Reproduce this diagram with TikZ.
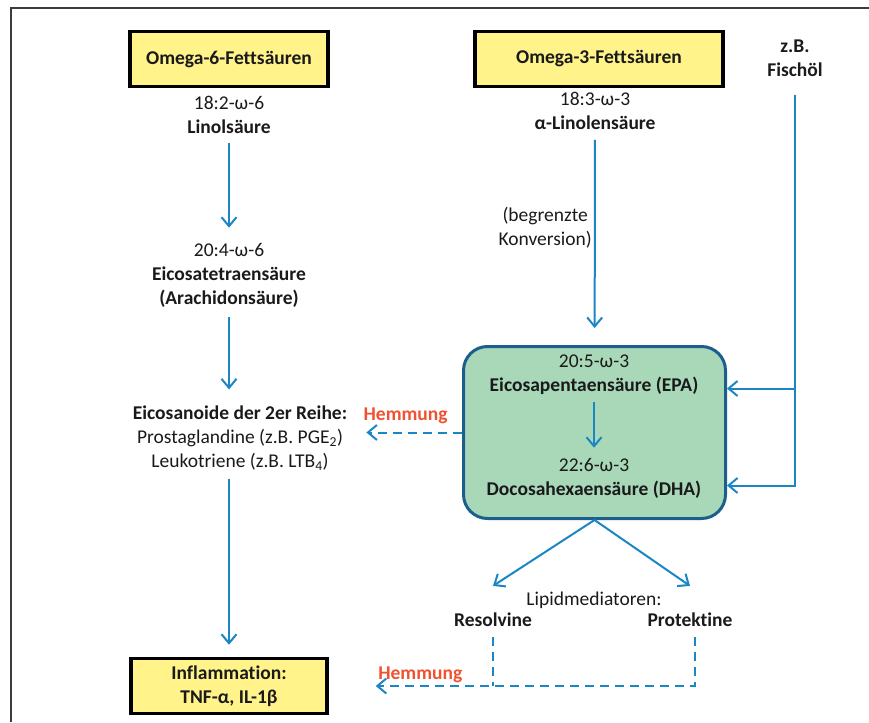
\documentclass[tikz,border=0pt]{standalone}
\usepackage{fontspec}
\setmainfont{Carlito}[Ligatures=NoCommon]
\usetikzlibrary{arrows.meta,positioning}
\definecolor{ink}{HTML}{1A1A1A}
\definecolor{flowblue}{HTML}{1B86C4}
\definecolor{boxyellow}{HTML}{FFF38A}
\definecolor{epagreen}{HTML}{A9D8B8}
\definecolor{epaedge}{HTML}{1D5F8C}
\definecolor{hemmred}{HTML}{F0512F}
\tikzset{
  txt/.style={text=ink, align=center, inner sep=2pt, font=\fontsize{19.5}{24}\selectfont},
  btxt/.style={txt, font=\fontsize{19.5}{24}\selectfont\bfseries},
  srcbox/.style={draw=black, line width=3.5pt, fill=boxyellow, align=center, text=ink,
    font=\fontsize{19.5}{24}\selectfont\bfseries, minimum height=55pt},
  pool/.style={draw=epaedge, line width=3pt, fill=epagreen, rounded corners=24pt,
    minimum width=262pt, minimum height=172pt},
  flow/.style={draw=flowblue, line width=2pt, -{Straight Barb[length=9pt,width=15pt]}},
  dashline/.style={draw=flowblue, line width=2pt, dash pattern=on 9pt off 6pt},
  inhib/.style={dashline, -{Straight Barb[length=9pt,width=15pt]}},
  hemm/.style={text=hemmred, font=\fontsize{19.5}{24}\selectfont\bfseries, inner sep=2pt},
}
\begin{document}
\begin{tikzpicture}[x=1pt,y=-1pt]
\useasboundingbox (0,0) rectangle (869,722);

% ----- frame -----
\draw[line width=2pt, ink!85] (11,722) -- (11,8) -- (869,8);

% ----- sources -----
\node[srcbox, minimum width=198pt] (omega6) at (229,59) {Omega-6-Fettsäuren};
\node[srcbox, minimum width=248pt] (omega3) at (599,59) {Omega-3-Fettsäuren};
\node[btxt] (fisch) at (795,58) {z.B.\\Fischöl};

% ----- omega-6 chain -----
\node[txt] (linol) at (229,115) {18:2-ω-6\\\textbf{Linolsäure}};
\node[txt] (arachidon) at (229,275) {20:4-ω-6\\\textbf{Eicosatetraensäure}\\\textbf{(Arachidonsäure)}};
\node[txt] (eicosanoid) at (240,438) {\textbf{Eicosanoide der 2er Reihe:}\\Prostaglandine (z.B. PGE\textsubscript{2})\\Leukotriene (z.B. LTB\textsubscript{4})};
\node[srcbox, minimum width=196pt] (inflam) at (229,686) {Inflammation:\\TNF-α, IL-1β};

% ----- omega-3 chain -----
\node[txt] (alinolen) at (595,111) {18:3-ω-3\\\textbf{α-Linolensäure}};
\node[pool] (pool) at (594.5,432.5) {};
\node[txt] (epa) at (594,375) {20:5-ω-3\\\textbf{Eicosapentaensäure (EPA)}};
\node[txt] (dha) at (594,478) {22:6-ω-3\\\textbf{Docosahexaensäure (DHA)}};
\node[txt] (lipid) at (594,600) {Lipidmediatoren:};
\node[btxt] (resolv) at (493,620) {Resolvine};
\node[btxt] (protek) at (690,620) {Protektine};

% ----- flows -----
\draw[flow, shorten <=7pt, shorten >=13pt] (linol) -- (arachidon);
\draw[flow, shorten <=8pt, shorten >=14pt] (arachidon) -- (arachidon |- eicosanoid.north);
\draw[flow, shorten <=6pt, shorten >=12pt] (eicosanoid.south -| inflam) -- (inflam);
\draw[flow, shorten <=8pt, shorten >=17pt] (alinolen) -- node[txt, left, pos=0.45]{(begrenzte\\Konversion)} (pool);
\draw[flow, shorten <=5pt, shorten >=8pt] (epa) -- (dha);
\draw[flow] (pool.south) -- ([yshift=25pt]resolv.north);
\draw[flow] (pool.south) -- ([yshift=25pt]protek.north);

% ----- fish oil feeds EPA and DHA -----
\coordinate (epain) at ([yshift=44pt]pool.east);
\coordinate (dhain) at ([yshift=-53pt]pool.east);
\draw[flow, shorten <=16pt] (fisch.south) |- (dhain);
\draw[flow] (epain -| fisch.south) -- (epain);

% ----- inhibition -----
\draw[inhib, shorten >=17pt] (pool.west) -- node[hemm, above, yshift=6pt]{Hemmung} (pool.west -| eicosanoid.east);
\draw[dashline, shorten <=8pt] (resolv.south) -- (resolv.south |- inflam.east);
\draw[inhib, shorten <=8pt, shorten >=47pt] ([xshift=5pt]protek.south) |- node[hemm, pos=0.875, above]{Hemmung} (inflam.east);

\end{tikzpicture}
\end{document}
